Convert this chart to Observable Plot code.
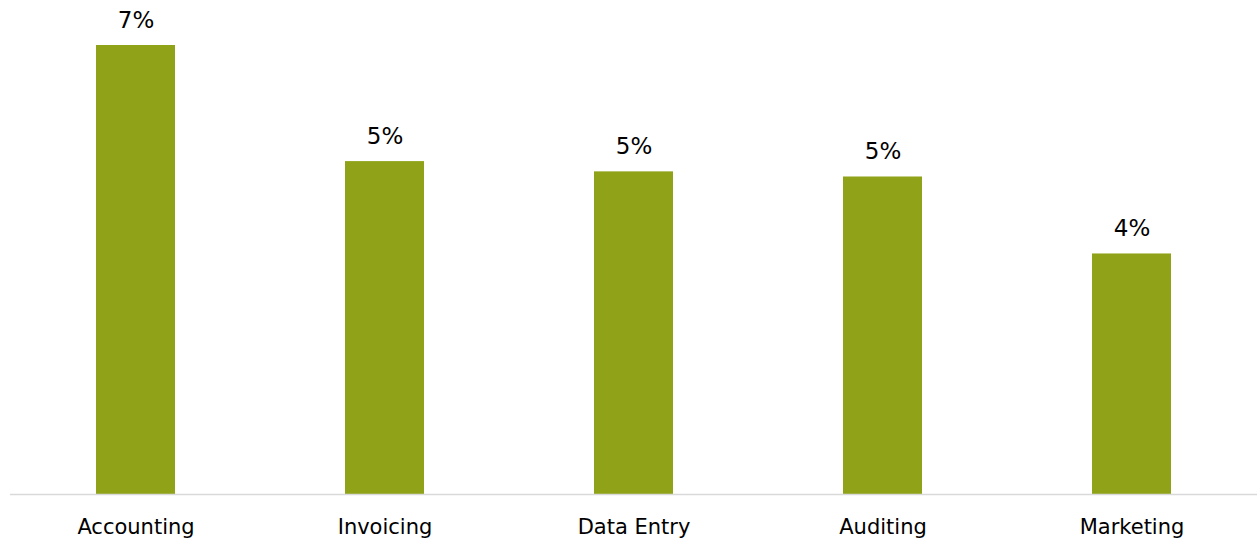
<!DOCTYPE html>
<html>
<head>
<meta charset="utf-8">
<script src="https://cdn.jsdelivr.net/npm/d3@7"></script>
<script src="https://cdn.jsdelivr.net/npm/@observablehq/plot@0.6"></script>
<style>
  html, body { margin: 0; padding: 0; background: #fff; }
  #chart svg { display: block; }
</style>
</head>
<body>
<div id="chart"></div>
<script>
const categories = ["Accounting", "Invoicing", "Data Entry", "Auditing", "Marketing"];
const values = [0.070, 0.0519, 0.0503, 0.0495, 0.0375];
const valueLabels = ["7%", "5%", "5%", "5%", "4%"];

const data = categories.map((c, i) => ({category: c, value: values[i], label: valueLabels[i]}));

const chart = Plot.plot({
  width: 1257,
  height: 546,
  marginLeft: 10,
  marginRight: 0,
  marginTop: 45,
  marginBottom: 52,
  style: {fontFamily: "'DejaVu Sans', sans-serif", fontSize: "21px", color: "#000", background: "#fff"},
  x: {domain: categories, paddingInner: 0.683, paddingOuter: 0.3415, label: null},
  y: {domain: [0, 0.07], axis: null},
  marks: [
    Plot.barY(data, {x: "category", y: "value", fill: "#90A318"}),
    Plot.ruleY([0], {stroke: "#d9d9d9", strokeWidth: 1.5}),
    Plot.text(data, {x: "category", y: "value", text: "label", dy: -18, lineAnchor: "bottom", fontSize: 23, fill: "#000"}),
    Plot.axisX({tickSize: 0, tickPadding: 25, fontSize: 21, label: null, fill: "#000"})
  ]
});
document.getElementById("chart").appendChild(chart);
</script>
</body>
</html>
